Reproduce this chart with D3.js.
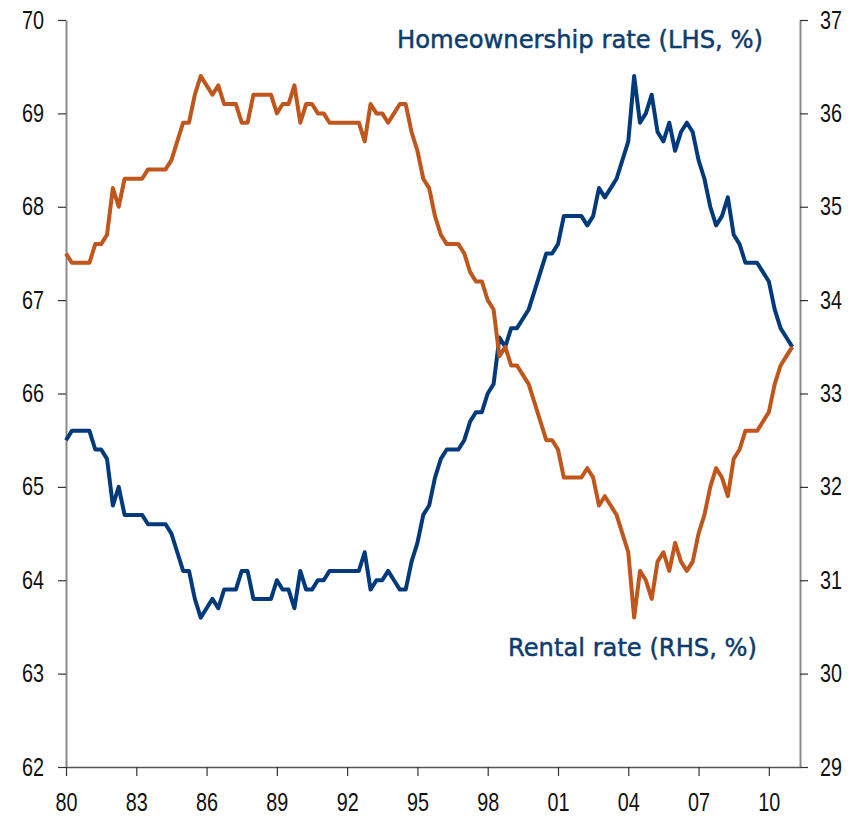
<!DOCTYPE html>
<html>
<head>
<meta charset="utf-8">
<script src="https://cdn.jsdelivr.net/npm/d3@7"></script>
<style>
    body { margin: 0; background: #fff; }
    .tick text { font-family: "Liberation Sans", Arial, sans-serif; font-size: 25px; fill: #111; }
    .series-label { font-family: "DejaVu Sans", sans-serif; font-size: 25px; }
</style>
</head>
<body>
<div id="chart"></div>
<script>
// Quarterly data, 1980Q1 - 2011Q1
const firstYear = 1980;

// Homeownership rate, % (left axis)
const homeownership = [
    65.5, 65.6, 65.6, 65.6, 65.6, 65.4, 65.4, 65.3, 64.8, 65.0,
    64.7, 64.7, 64.7, 64.7, 64.6, 64.6, 64.6, 64.6, 64.5, 64.3,
    64.1, 64.1, 63.8, 63.6, 63.7, 63.8, 63.7, 63.9, 63.9, 63.9,
    64.1, 64.1, 63.8, 63.8, 63.8, 63.8, 64.0, 63.9, 63.9, 63.7,
    64.1, 63.9, 63.9, 64.0, 64.0, 64.1, 64.1, 64.1, 64.1, 64.1,
    64.1, 64.3, 63.9, 64.0, 64.0, 64.1, 64.0, 63.9, 63.9, 64.2,
    64.4, 64.7, 64.8, 65.1, 65.3, 65.4, 65.4, 65.4, 65.5, 65.7,
    65.8, 65.8, 66.0, 66.1, 66.6, 66.5, 66.7, 66.7, 66.8, 66.9,
    67.1, 67.3, 67.5, 67.5, 67.6, 67.9, 67.9, 67.9, 67.9, 67.8,
    67.9, 68.2, 68.1, 68.2, 68.3, 68.5, 68.7, 69.4, 68.9, 69.0,
    69.2, 68.8, 68.7, 68.9, 68.6, 68.8, 68.9, 68.8, 68.5, 68.3,
    68.0, 67.8, 67.9, 68.1, 67.7, 67.6, 67.4, 67.4, 67.4, 67.3,
    67.2, 66.9, 66.7, 66.6, 66.5
];

// Rental rate, % (right axis)
const rental = [
    34.5, 34.4, 34.4, 34.4, 34.4, 34.6, 34.6, 34.7, 35.2, 35.0,
    35.3, 35.3, 35.3, 35.3, 35.4, 35.4, 35.4, 35.4, 35.5, 35.7,
    35.9, 35.9, 36.2, 36.4, 36.3, 36.2, 36.3, 36.1, 36.1, 36.1,
    35.9, 35.9, 36.2, 36.2, 36.2, 36.2, 36.0, 36.1, 36.1, 36.3,
    35.9, 36.1, 36.1, 36.0, 36.0, 35.9, 35.9, 35.9, 35.9, 35.9,
    35.9, 35.7, 36.1, 36.0, 36.0, 35.9, 36.0, 36.1, 36.1, 35.8,
    35.6, 35.3, 35.2, 34.9, 34.7, 34.6, 34.6, 34.6, 34.5, 34.3,
    34.2, 34.2, 34.0, 33.9, 33.4, 33.5, 33.3, 33.3, 33.2, 33.1,
    32.9, 32.7, 32.5, 32.5, 32.4, 32.1, 32.1, 32.1, 32.1, 32.2,
    32.1, 31.8, 31.9, 31.8, 31.7, 31.5, 31.3, 30.6, 31.1, 31.0,
    30.8, 31.2, 31.3, 31.1, 31.4, 31.2, 31.1, 31.2, 31.5, 31.7,
    32.0, 32.2, 32.1, 31.9, 32.3, 32.4, 32.6, 32.6, 32.6, 32.7,
    32.8, 33.1, 33.3, 33.4, 33.5
];

const xTickYears = [1980, 1983, 1986, 1989, 1992, 1995, 1998, 2001, 2004, 2007, 2010];
const xTickLabels = ["80", "83", "86", "89", "92", "95", "98", "01", "04", "07", "10"];
const leftTicks = [62, 63, 64, 65, 66, 67, 68, 69, 70];
const rightTicks = [29, 30, 31, 32, 33, 34, 35, 36, 37];

const width = 865;
const height = 823;
const margin = { top: 20, right: 65, bottom: 56, left: 66 };

const svg = d3.select("#chart")
    .append("svg")
    .attr("width", width)
    .attr("height", height);

const x = d3.scaleLinear()
    .domain([1980, 2011.33])
    .range([margin.left, width - margin.right]);

const yLeft = d3.scaleLinear()
    .domain([62, 70])
    .range([height - margin.bottom, margin.top]);

const yRight = d3.scaleLinear()
    .domain([29, 37])
    .range([height - margin.bottom, margin.top]);

const quarterYear = i => firstYear + i / 4;

// axes
const leftAxis = svg.append("g")
    .attr("transform", `translate(${margin.left},0)`)
    .call(d3.axisLeft(yLeft).tickValues(leftTicks).tickSize(8).tickSizeOuter(0).tickPadding(14).tickFormat(d3.format("d")));

const rightAxis = svg.append("g")
    .attr("transform", `translate(${width - margin.right},0)`)
    .call(d3.axisRight(yRight).tickValues(rightTicks).tickSize(8).tickSizeOuter(0).tickPadding(12).tickFormat(d3.format("d")));

const bottomAxis = svg.append("g")
    .attr("transform", `translate(0,${height - margin.bottom})`)
    .call(d3.axisBottom(x).tickValues(xTickYears).tickSize(9).tickSizeOuter(0).tickPadding(17)
        .tickFormat((d, i) => xTickLabels[i]));

[leftAxis, rightAxis].forEach(g => {
    g.select(".domain").attr("stroke", "#8a8a8a").attr("stroke-width", 2);
    g.selectAll(".tick line").attr("stroke", "#333").attr("stroke-width", 1.2);
});
bottomAxis.select(".domain").attr("stroke", "#555").attr("stroke-width", 1.5);
bottomAxis.selectAll(".tick line").attr("stroke", "#333").attr("stroke-width", 1.2);

// narrow, tall digits like the original
svg.selectAll(".tick text")
    .attr("textLength", 22)
    .attr("lengthAdjust", "spacingAndGlyphs");

// lines
const lineLeft = d3.line()
    .x((d, i) => x(quarterYear(i)))
    .y(d => yLeft(d));

const lineRight = d3.line()
    .x((d, i) => x(quarterYear(i)))
    .y(d => yRight(d));

svg.append("path")
    .datum(homeownership)
    .attr("fill", "none")
    .attr("stroke", "#003a7d")
    .attr("stroke-width", 4)
    .attr("stroke-linejoin", "round")
    .attr("d", lineLeft);

svg.append("path")
    .datum(rental)
    .attr("fill", "none")
    .attr("stroke", "#c0561b")
    .attr("stroke-width", 4)
    .attr("stroke-linejoin", "round")
    .attr("d", lineRight);

// series labels
svg.append("text")
    .attr("class", "series-label")
    .attr("x", 397)
    .attr("y", 48)
    .attr("textLength", 366)
    .attr("lengthAdjust", "spacingAndGlyphs")
    .attr("fill", "#0d3c6e")
    .attr("stroke", "#0d3c6e")
    .attr("stroke-width", 0.5)
    .text("Homeownership rate (LHS, %)");

svg.append("text")
    .attr("class", "series-label")
    .attr("x", 508)
    .attr("y", 656)
    .attr("textLength", 249)
    .attr("lengthAdjust", "spacingAndGlyphs")
    .attr("fill", "#0d3c6e")
    .attr("stroke", "#0d3c6e")
    .attr("stroke-width", 0.5)
    .text("Rental rate (RHS, %)");
</script>
</body>
</html>
